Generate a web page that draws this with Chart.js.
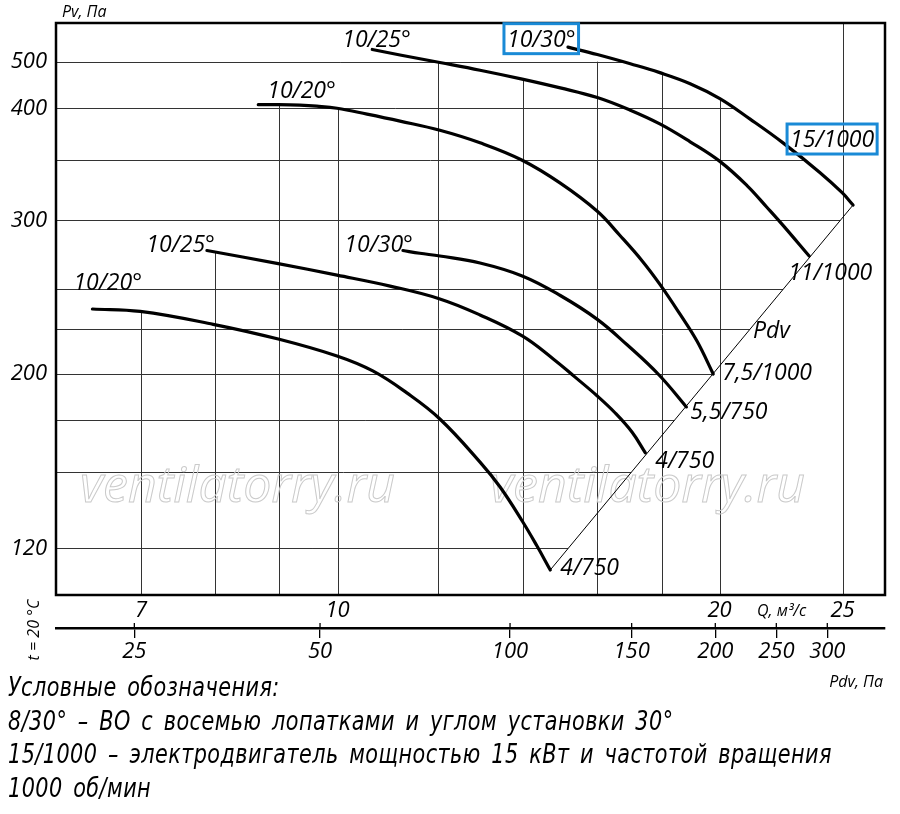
<!DOCTYPE html>
<html lang="ru">
<head>
<meta charset="UTF-8">
<title>Аэродинамические характеристики</title>
<script src="https://cdn.jsdelivr.net/npm/chart.js"></script>
<style>
  body { margin: 0; background: #fff; }
  .wrap { position: relative; width: 900px; height: 814px; overflow: hidden; }
  #chart { position: absolute; left: 0; top: 0; }
  .notes {
    position: absolute; left: 8px; top: 671px;
    font: italic 26px "Liberation Sans Narrow", "DejaVu Sans Condensed", sans-serif;
    line-height: 33.7px; letter-spacing: 0.5px; word-spacing: 4px; color: #000;
    white-space: nowrap; transform-origin: 0 0;
  }
</style>
</head>
<body>
<div class="wrap">
  <canvas id="chart" width="900" height="814"></canvas>
  <div class="notes" id="notes">
    <div><span>Условные обозначения:</span></div>
    <div><span>8/30° – ВО с восемью лопатками и углом установки 30°</span></div>
    <div><span>15/1000 – электродвигатель мощностью 15 кВт и частотой вращения</span></div>
    <div><span>1000 об/мин</span></div>
  </div>
</div>
<script>
// axis ticks
const qTicks = [7, 8, 9, 10, 12, 14, 16, 18, 20, 25];
const qLabels = [7, 10, 20, 25];
const pvTicks = [120, 150, 175, 200, 225, 250, 300, 350, 400, 500];
const pvLabels = [120, 200, 300, 400, 500];
const pdvTicks = [25, 50, 100, 150, 200, 250, 300];

// curves: Q, м3/с and Pv, Па
const q1020a = [6.41, 6.99, 7.98, 8.98, 9.99, 10.66, 11.34, 12.04, 12.95, 13.43, 13.98, 14.36, 14.71];
const pv1020a = [237.4, 235.9, 228, 219.3, 209.7, 201.6, 189.2, 175.3, 154.5, 143.6, 130, 120.8, 112.6];
const q1025a = [7.89, 8.98, 9.99, 11.0, 12.04, 12.95, 13.98, 14.79, 15.38, 16.02, 16.55, 17.06, 17.48];
const pv1025a = [277, 267.6, 259.6, 252.2, 243.8, 233.7, 221.1, 208.1, 198.3, 187.5, 178.4, 168.7, 158.7];
const q1030a = [11.26, 11.61, 12.04, 12.95, 13.98, 14.98, 16.02, 16.91, 17.92, 18.83];
const pv1030a = [277, 275, 273, 268, 259, 246, 231, 216, 199.4, 181.6];
const q1020b = [8.66, 8.98, 9.34, 9.63, 9.99, 10.55, 11.2, 12.04, 12.95, 13.98, 14.98, 16.02, 16.7, 17.38, 17.96, 18.62, 19.2, 19.77];
const pv1020b = [407, 407, 406, 404, 400, 394, 387, 378, 366, 350, 330, 307, 288, 269.5, 253, 234, 218, 200];
const q1025b = [10.65, 11.2, 12.04, 12.95, 13.98, 14.98, 16.02, 17.01, 17.96, 18.96, 20.01, 21.02, 21.8, 22.44, 23.53];
const pv1025b = [526, 514, 498, 480, 460, 441, 421, 398, 384, 367, 349, 328, 310, 296, 273];
const q1030b = [15.19, 16.02, 17.01, 17.92, 18.96, 20.01, 21.14, 22.44, 24.0, 24.98, 25.48];
const pv1030b = [531, 515, 495, 475, 450, 419, 389, 366, 339, 322, 312];
// Pdv line
const qPdv = [14.71, 25.48];
const pvPdv = [112.6, 312];

const wheelNames = ['10/20°', '10/25°', '10/30°', '10/20°', '10/25°', '10/30°'];
const motorNames = ['4/750', '4/750', '5,5/750', '7,5/1000', '11/1000', '15/1000'];
const curveQ = [q1020a, q1025a, q1030a, q1020b, q1025b, q1030b];
const curvePv = [pv1020a, pv1025a, pv1030a, pv1020b, pv1025b, pv1030b];

// label placement (px offsets from the curve ends) and highlight boxes
const wheelPos = [[-19, -19, 'left'], [8, 1.5, 'right'], [10, 1, 'right'], [9, -6.5, 'left'], [-30, -2.5, 'left'], [-61, -0.5, 'left']];
const motorPos = [[10, 5, 'left'], [10, 15, 'left'], [4, 12, 'left'], [9, 6, 'left'], [-21, 24, 'left'], [-63, -58, 'left']];
const boxed = [5];
// grid lines that are not cut off by the curves
const fullHeightQ = [25];

// the drawing's own axis calibration (value -> fraction of axis length)
const knots = {
  y: [[104.6, 0], [120, 0.0816], [200, 0.3864], [300, 0.6551], [400, 0.8509], [500, 0.9324], [587, 1]],
  pdv: [[18.7, 0], [25, 0.0945], [50, 0.3185], [100, 0.5477], [150, 0.6944], [200, 0.7953], [250, 0.8689], [300, 0.9304], [369, 1]]
};

class KnotLogScale extends Chart.LogarithmicScale {
  getPixelForValue(value) {
    const k = knots[this.id];
    if (!(value > 0)) return NaN;
    const lv = Math.log10(value);
    let i = 1;
    while (i < k.length - 1 && lv > Math.log10(k[i][0])) i++;
    const l0 = Math.log10(k[i - 1][0]), l1 = Math.log10(k[i][0]);
    return this.getPixelForDecimal(k[i - 1][1] + (lv - l0) / (l1 - l0) * (k[i][1] - k[i - 1][1]));
  }
  getValueForPixel(pixel) {
    const k = knots[this.id];
    const f = this.getDecimalForPixel(pixel);
    let i = 1;
    while (i < k.length - 1 && f > k[i][1]) i++;
    const l0 = Math.log10(k[i - 1][0]), l1 = Math.log10(k[i][0]);
    return Math.pow(10, l0 + (f - k[i - 1][1]) / (k[i][1] - k[i - 1][1]) * (l1 - l0));
  }
}
KnotLogScale.id = 'knotlog';
KnotLogScale.defaults = Chart.LogarithmicScale.defaults;
Chart.register(KnotLogScale);

// polyline helpers on drawn points
function yAt(pts, x) {
  for (let j = 0; j < pts.length - 1; j++) {
    const p = pts[j], r = pts[j + 1];
    if (x >= p.x && x <= r.x && r.x !== p.x) return p.y + (r.y - p.y) * (x - p.x) / (r.x - p.x);
  }
  return null;
}
function xAt(pts, y) {
  for (let j = 0; j < pts.length - 1; j++) {
    const p = pts[j], r = pts[j + 1];
    if ((y - p.y) * (y - r.y) <= 0 && r.y !== p.y) return p.x + (r.x - p.x) * (y - p.y) / (r.y - p.y);
  }
  return null;
}

const labelFont = 'italic 23px "Open Sans", sans-serif';
const smallFont = 'italic 16px "Open Sans", sans-serif';

const decor = {
  id: 'decor',
  beforeDatasetsDraw(chart) {
    const { ctx, chartArea: a } = chart;
    const sx = chart.scales.x, sy = chart.scales.y;
    const curves = curveQ.map((_, i) => chart.getDatasetMeta(i).data);
    const outer = curves[curves.length - 1];
    const diag = chart.getDatasetMeta(curveQ.length).data;
    const topLine = sy.getPixelForValue(pvTicks[pvTicks.length - 1]);
    ctx.save();
    ctx.strokeStyle = '#333';
    ctx.lineWidth = 1;
    const seg = (x1, y1, x2, y2) => { ctx.beginPath(); ctx.moveTo(x1, y1); ctx.lineTo(x2, y2); ctx.stroke(); };
    // vertical grid: from the highest curve down
    qTicks.forEach(q => {
      const x = Math.round(sx.getPixelForValue(q)) + 0.5;
      let top = a.top;
      if (!fullHeightQ.includes(q)) {
        const ys = curves.map(c => yAt(c, x)).filter(v => v !== null);
        if (ys.length) top = Math.max(Math.min(...ys), topLine);
      }
      seg(x, top, x, a.bottom);
    });
    // horizontal grid: up to the outer curve or the Pdv line
    pvTicks.forEach(v => {
      const y = Math.round(sy.getPixelForValue(v)) + 0.5;
      const xs = [xAt(outer, y), xAt(diag, y)].filter(w => w !== null);
      seg(a.left, y, xs.length ? Math.min(...xs) : a.right, y);
    });
    // watermark
    ctx.font = 'italic 50px "Open Sans", sans-serif';
    ctx.strokeStyle = '#cacaca';
    ctx.textBaseline = 'alphabetic';
    [a.left + 24, a.left + 434].forEach(x => ctx.strokeText('ventilatorry.ru', x, a.bottom - 93, 330));
    ctx.restore();
  },
  afterDatasetsDraw(chart) {
    const { ctx, chartArea: a } = chart;
    ctx.save();
    // frame
    ctx.strokeStyle = '#000';
    ctx.lineWidth = 2.5;
    ctx.strokeRect(a.left, a.top, a.right - a.left, a.bottom - a.top);

    ctx.fillStyle = '#000';
    ctx.font = labelFont;
    ctx.textBaseline = 'alphabetic';
    const put = (text, x, y, align, box) => {
      ctx.textAlign = align;
      ctx.fillText(text, x, y);
      if (box) {
        const w = ctx.measureText(text).width;
        const x0 = align === 'right' ? x - w : x;
        ctx.save();
        ctx.strokeStyle = '#1a8ad6';
        ctx.lineWidth = 3;
        ctx.strokeRect(x0 - 3, y - 23, w + 6, 30);
        ctx.restore();
      }
    };
    curveQ.forEach((_, i) => {
      const pts = chart.getDatasetMeta(i).data;
      const p0 = pts[0], p1 = pts[pts.length - 1];
      const w = wheelPos[i], m = motorPos[i];
      put(wheelNames[i], p0.x + w[0], p0.y + w[1], w[2], boxed.includes(i));
      put(motorNames[i], p1.x + m[0], p1.y + m[1], m[2], boxed.includes(i));
    });
    const d = chart.getDatasetMeta(curveQ.length).data[1];
    put('Pdv', d.x - 100, d.y + 133, 'left', false);

    // axis titles
    ctx.font = smallFont;
    ctx.textAlign = 'left';
    ctx.fillText('Pv, Па', a.left + 6, 17);
    ctx.fillText('Q, м³/с', 757, a.bottom + 21);
    ctx.textAlign = 'right';
    ctx.fillText('Pdv, Па', a.right - 2, 687);
    ctx.save();
    ctx.translate(39, 630);
    ctx.rotate(-Math.PI / 2);
    ctx.textAlign = 'center';
    ctx.fillText('t = 20 °C', 0, 0);
    ctx.restore();

    // Pdv tick marks poke above the axis line
    const s = chart.scales.pdv;
    ctx.lineWidth = 1.3;
    s.ticks.forEach(t => {
      const x = s.getPixelForValue(t.value);
      ctx.beginPath();
      ctx.moveTo(x, s.top - 5);
      ctx.lineTo(x, s.top);
      ctx.stroke();
    });
    ctx.restore();
  }
};

const datasets = curveQ.map((qs, i) => ({
  label: wheelNames[i] + ' ' + motorNames[i],
  data: qs.map((q, j) => ({ x: q, y: curvePv[i][j] })),
  borderColor: '#000',
  borderWidth: 3.2,
  borderCapStyle: 'round',
  pointRadius: 0,
  tension: 0.4,
  fill: false
}));
datasets.push({
  label: 'Pdv',
  data: qPdv.map((q, j) => ({ x: q, y: pvPdv[j] })),
  borderColor: '#000',
  borderWidth: 1,
  pointRadius: 0,
  tension: 0,
  fill: false
});

const tickFont = { family: '"Open Sans", sans-serif', size: 22, style: 'italic' };

new Chart(document.getElementById('chart'), {
  type: 'line',
  data: { datasets },
  options: {
    responsive: false,
    animation: false,
    events: [],
    layout: { padding: { top: 23, right: 15, bottom: 141, left: 0 } },
    plugins: { legend: { display: false }, tooltip: { enabled: false } },
    scales: {
      x: {
        type: 'logarithmic',
        min: 6, max: 27, bounds: 'data',
        position: 'bottom', weight: 0,
        afterBuildTicks: s => { s.ticks = qTicks.map(v => ({ value: v })); },
        afterFit: s => { s.height = 33; },
        ticks: {
          autoSkip: false, maxRotation: 0, padding: 3, color: '#000', font: tickFont,
          callback: v => qLabels.includes(v) ? String(v) : ''
        },
        grid: { drawOnChartArea: false, drawTicks: false },
        border: { display: false }
      },
      pdv: {
        type: 'knotlog',
        axis: 'x',
        min: 18.7, max: 369, bounds: 'data',
        position: 'bottom', weight: 1,
        afterBuildTicks: s => { s.ticks = pdvTicks.map(v => ({ value: v })); },
        afterFit: s => { s.height = 45; },
        ticks: {
          autoSkip: false, maxRotation: 0, padding: 1, color: '#000', font: tickFont,
          callback: v => String(v)
        },
        grid: { drawOnChartArea: false, drawTicks: true, tickLength: 10, color: '#000', lineWidth: 1.3 },
        border: { display: true, color: '#000', width: 2.5 }
      },
      y: {
        type: 'knotlog',
        min: 104.6, max: 587, bounds: 'data',
        position: 'left',
        afterBuildTicks: s => { s.ticks = pvTicks.map(v => ({ value: v })); },
        afterFit: s => { s.width = 56; },
        ticks: {
          autoSkip: false, padding: 9, color: '#000', font: tickFont,
          callback: v => pvLabels.includes(v) ? String(v) : ''
        },
        grid: { drawOnChartArea: false, drawTicks: false },
        border: { display: false }
      }
    }
  },
  plugins: [decor]
});

// squeeze the legend note so its longest line ends where the drawing's does
const notes = document.getElementById('notes');
const widest = Math.max(...[...notes.querySelectorAll('span')].map(s => s.getBoundingClientRect().width));
notes.style.transform = 'scaleX(' + (824 / widest).toFixed(3) + ')';
</script>
</body>
</html>
